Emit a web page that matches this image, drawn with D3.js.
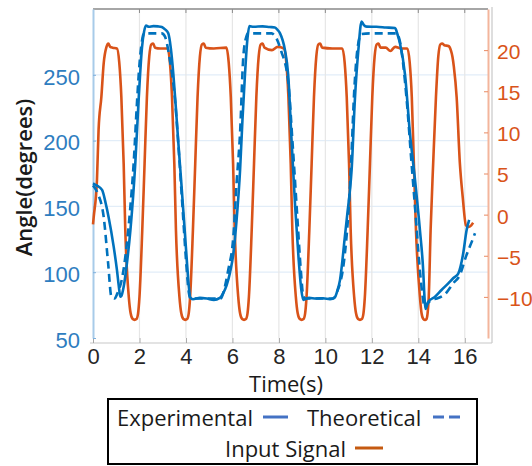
<!DOCTYPE html>
<html lang="en">
<head>
<meta charset="UTF-8"/>
<title>Angle vs input signal</title>
<script src="https://d3js.org/d3.v7.min.js"></script>
<style>
	body{ margin:0; background:#fff; }
	svg{ font-family:"Open Sans", "Noto Sans", sans-serif; }
</style>
</head>
<body>
<script>
// time ticks / axis ticks
var timeTicks = [0, 2, 4, 6, 8, 10, 12, 14, 16];
var angleTicks = [50, 100, 150, 200, 250];
var signalTicks = [-10, -5, 0, 5, 10, 15, 20];

// [time (s), angle (degrees)]
var experimental = [
	[0, 167.5], [0.15, 166], [0.39, 162.5], [0.55, 152], [0.67, 142], [0.89, 119.4], [1.03, 101.7],
	[1.12, 88], [1.17, 81.4], [1.22, 82], [1.32, 89], [1.46, 106.8], [1.61, 132], [1.82, 182.7],
	[1.97, 233], [2.11, 271], [2.2, 283], [2.28, 287.5], [2.4, 286.5], [2.6, 287], [2.8, 286.8],
	[2.96, 286.3], [3.1, 284.5], [3.24, 281.5], [3.35, 270], [3.46, 250], [3.57, 224], [3.67, 199],
	[3.8, 168], [3.93, 136], [4.05, 106], [4.13, 88], [4.18, 81], [4.3, 79.5], [4.6, 80.5], [4.9, 80],
	[5.2, 79], [5.46, 80.5], [5.6, 84], [5.75, 90], [5.9, 100], [6.04, 114], [6.18, 139.7], [6.33, 177.7],
	[6.43, 215], [6.54, 250], [6.65, 278], [6.73, 287], [6.9, 286.5], [7.3, 286.8], [7.6, 286.3],
	[7.83, 286], [7.95, 284], [8.05, 281.5], [8.26, 268.8], [8.4, 250], [8.55, 199], [8.7, 150],
	[8.85, 110], [8.97, 86], [9.05, 79], [9.3, 80.5], [9.6, 80], [9.9, 80.2], [10.2, 79.5], [10.41, 81],
	[10.5, 85], [10.63, 94], [10.84, 127], [10.95, 145], [11.06, 162.5], [11.13, 177.7], [11.27, 231],
	[11.42, 268.8], [11.56, 290.5], [11.65, 288], [11.78, 286.6], [12.2, 286.5], [12.6, 286],
	[13.0, 285.5], [13.1, 281], [13.21, 274], [13.43, 250], [13.64, 205.6], [13.86, 170], [14.07, 132],
	[14.21, 101.7], [14.27, 80], [14.31, 72], [14.36, 74], [14.43, 77.6], [14.72, 81.4], [15.0, 86.5],
	[15.29, 91.5], [15.5, 95.4], [15.72, 99], [15.93, 114], [16.08, 132], [16.19, 139.7]
];

var theoretical = [
	[0, 166], [0.2, 160], [0.46, 142], [0.65, 107], [0.79, 81.4], [0.93, 80], [1.05, 84], [1.25, 95.4],
	[1.46, 122], [1.61, 150], [1.75, 182.7], [1.89, 228], [2.0, 258], [2.11, 276], [2.2, 281.5],
	[2.96, 281.5], [3.1, 279], [3.3, 262], [3.53, 231], [3.7, 190], [3.85, 150], [4.0, 110], [4.12, 85],
	[4.2, 80], [5.5, 80], [5.6, 84], [5.82, 101.7], [6.04, 127], [6.18, 167.8], [6.33, 206], [6.47, 264],
	[6.6, 279], [6.67, 281.5], [7.69, 281.5], [7.85, 279], [8.1, 268], [8.4, 245], [8.6, 195], [8.8, 140],
	[8.95, 100], [9.05, 82], [9.15, 80], [10.35, 80], [10.48, 84], [10.84, 114], [10.99, 144.8],
	[11.1, 180], [11.25, 240], [11.4, 272], [11.55, 281], [11.92, 281.5], [13.07, 281.5], [13.2, 276],
	[13.5, 231], [13.7, 185], [13.9, 140], [14.05, 105], [14.2, 80], [14.27, 73], [14.35, 75],
	[14.57, 78.9], [14.8, 80], [15.19, 84], [15.5, 91.5], [15.79, 97.9], [16.05, 111.8], [16.36, 125.8],
	[16.44, 129.6]
];

// [time (s), input signal]
var inputSignal = [
	[0, -1.2], [0.03, -0.3], [0.17, 4.2], [0.24, 10.3], [0.36, 14.3], [0.46, 18.4], [0.58, 20.4],
	[0.66, 20.8], [0.74, 20.4], [0.85, 20.3], [1.03, 20.2],
	[1.13, 18.5], [1.22, 14.3], [1.32, 6.2], [1.39, -1.9], [1.54, -10], [1.62, -12.0], [1.71, -12.7],
	[1.79, -12.8], [1.87, -12.7], [1.94, -12.0], [2.0, -10], [2.12, -1.9], [2.22, 6.2], [2.32, 14.3],
	[2.42, 19.2], [2.51, 20.7], [2.59, 20.8], [2.67, 20.3], [2.9, 20.2], [3.21, 20.2],
	[3.31, 18.5], [3.4, 14.3], [3.5, 6.2], [3.57, -1.9], [3.72, -10], [3.8, -12.0], [3.89, -12.7],
	[3.97, -12.8], [4.05, -12.7], [4.12, -12.0], [4.18, -10], [4.3, -1.9], [4.4, 6.2], [4.5, 14.3],
	[4.6, 19.2], [4.69, 20.7], [4.77, 20.8], [4.85, 20.3], [5.2, 20.2], [5.74, 20.3],
	[5.84, 18.5], [5.93, 14.3], [6.03, 6.2], [6.1, -1.9], [6.25, -10], [6.33, -12.0], [6.42, -12.7],
	[6.5, -12.8], [6.58, -12.7], [6.65, -12.0], [6.71, -10], [6.83, -1.9], [6.93, 6.2], [7.03, 14.3],
	[7.13, 19.2], [7.22, 20.7], [7.3, 20.8], [7.38, 20.3], [7.7, 20.0], [7.95, 20.4], [8.22, 20.2],
	[8.32, 18.5], [8.41, 14.3], [8.51, 6.2], [8.58, -1.9], [8.73, -10], [8.81, -12.0], [8.9, -12.7],
	[8.98, -12.8], [9.06, -12.7], [9.13, -12.0], [9.19, -10], [9.31, -1.9], [9.41, 6.2], [9.51, 14.3],
	[9.61, 19.2], [9.7, 20.7], [9.78, 20.8], [9.86, 20.3], [10.3, 20.2], [10.73, 20.2],
	[10.83, 18.5], [10.92, 14.3], [11.02, 6.2], [11.09, -1.9], [11.24, -10], [11.32, -12.0], [11.41, -12.7],
	[11.49, -12.8], [11.57, -12.7], [11.64, -12.0], [11.7, -10], [11.82, -1.9], [11.92, 6.2], [12.02, 14.3],
	[12.12, 19.2], [12.21, 20.7], [12.29, 20.8], [12.37, 20.3], [12.6, 20.3], [12.8, 19.9], [13.0, 20.4],
	[13.3, 20.2], [13.53, 20.2],
	[13.63, 18.5], [13.72, 14.3], [13.81, 6.2], [13.9, -1.9], [14.07, -10], [14.14, -12.0], [14.22, -12.7],
	[14.29, -12.8], [14.35, -12.7], [14.4, -12.0], [14.45, -10], [14.53, -1.9], [14.64, 6.2], [14.76, 14.3],
	[14.86, 19.2], [14.95, 20.7], [15.03, 20.8], [15.12, 20.6], [15.3, 20.5], [15.4, 20.0], [15.47, 19.2],
	[15.53, 18.0], [15.65, 14.3], [15.79, 6.2], [15.91, 2.2], [16.05, -1.3], [16.15, -1.5], [16.28, -1.3],
	[16.36, -1.0]
];

var w = 532, h = 466;
var pLeft = 93, pRight = 488, pTop = 9, pBottom = 338;

var svg = d3.select("body").append("svg")
	.attr("width", w)
	.attr("height", h);

var x = d3.scaleLinear().domain([0, 17]).range([pLeft, pRight]);
var yL = d3.scaleLinear().domain([50, 300]).range([pBottom, pTop]);
var yR = d3.scaleLinear().domain([-15, 25]).range([pBottom, pTop]);

var blue = "#0072BD", orange = "#D95319";

// grid
svg.append("g").selectAll("line").data(angleTicks.slice(1)).enter().append("line")
	.attr("x1", pLeft).attr("x2", pRight)
	.attr("y1", function(d){ return yL(d); }).attr("y2", function(d){ return yL(d); })
	.attr("stroke", "#e2edf8").attr("stroke-width", 1.2);
svg.append("g").selectAll("line").data(timeTicks.slice(1)).enter().append("line")
	.attr("x1", function(d){ return x(d); }).attr("x2", function(d){ return x(d); })
	.attr("y1", pTop).attr("y2", pBottom)
	.attr("stroke", "#e6e6e6").attr("stroke-width", 1.2);

// frame
svg.append("line").attr("x1", pLeft).attr("x2", pRight).attr("y1", pTop).attr("y2", pTop)
	.attr("stroke", "#a6a6a6").attr("stroke-width", 2);
svg.append("line").attr("x1", 90).attr("x2", 492).attr("y1", 343).attr("y2", 343)
	.attr("stroke", "#c8c8c8").attr("stroke-width", 1.2);
svg.append("line").attr("x1", 492).attr("x2", 492).attr("y1", 7).attr("y2", 343)
	.attr("stroke", "#c8c8c8").attr("stroke-width", 1.2);

// top tick marks
svg.append("g").selectAll("line").data(timeTicks.slice(1)).enter().append("line")
	.attr("x1", function(d){ return x(d); }).attr("x2", function(d){ return x(d); })
	.attr("y1", pTop).attr("y2", pTop + 4)
	.attr("stroke", "#8c8c8c");

// bottom axis
var xAxis = svg.append("g")
	.attr("transform", "translate(0," + pBottom + ")")
	.call(d3.axisBottom(x).tickValues(timeTicks).tickSizeInner(-5).tickSizeOuter(0).tickPadding(10));
xAxis.select(".domain").remove();
xAxis.selectAll("line").attr("stroke", "#a6a6a6").attr("transform", "translate(0,5)");
xAxis.selectAll("text").attr("fill", "#262626").style("font-size", "22px");

// left axis
var lAxis = svg.append("g")
	.attr("transform", "translate(" + pLeft + ",0)")
	.call(d3.axisLeft(yL).tickValues(angleTicks).tickSizeInner(-3).tickSizeOuter(0).tickPadding(13));
lAxis.select(".domain").attr("stroke", "#a8cbe9").attr("stroke-width", 2);
lAxis.selectAll("line").attr("stroke", "#7fb0dc");
lAxis.selectAll("text").attr("fill", "#2e7dc0").attr("dy", "0.42em").style("font-size", "22px");

// right axis
var rAxis = svg.append("g")
	.attr("transform", "translate(" + pRight + ",0)")
	.call(d3.axisRight(yR).tickValues(signalTicks).tickSizeInner(-4).tickSizeOuter(0).tickPadding(9));
rAxis.select(".domain").attr("stroke", "#f3b59c").attr("stroke-width", 2);
rAxis.selectAll("line").attr("stroke", "#e98a62");
rAxis.selectAll("text").attr("fill", "#d9541a").attr("dy", "0.4em").style("font-size", "21px");

// lines
var lineL = d3.line()
	.x(function(d){ return x(d[0]); })
	.y(function(d){ return yL(d[1]); })
	.curve(d3.curveMonotoneX);
var lineR = d3.line()
	.x(function(d){ return x(d[0]); })
	.y(function(d){ return yR(d[1]); })
	.curve(d3.curveMonotoneX);

svg.append("path").datum(inputSignal)
	.attr("d", lineR).attr("fill", "none")
	.attr("stroke", orange).attr("stroke-width", 2.6);
svg.append("path").datum(theoretical)
	.attr("d", lineL).attr("fill", "none")
	.attr("stroke", blue).attr("stroke-width", 2.6)
	.attr("stroke-dasharray", "8,5");
svg.append("path").datum(experimental)
	.attr("d", lineL).attr("fill", "none")
	.attr("stroke", blue).attr("stroke-width", 2.6);

// axis titles
svg.append("text")
	.attr("transform", "translate(23," + ((pTop + pBottom) / 2 + 4) + ") rotate(-90)")
	.attr("text-anchor", "middle")
	.attr("dominant-baseline", "central")
	.attr("fill", "#1a1a1a")
	.style("font-size", "22px")
	.style("font-weight", "600")
	.text("Angle(degrees)");
svg.append("text")
	.attr("x", 286).attr("y", 392)
	.attr("text-anchor", "middle")
	.attr("fill", "#1a1a1a")
	.style("font-size", "22px")
	.text("Time(s)");

// legend
var lg = svg.append("g");
lg.append("rect").attr("x", 108).attr("y", 399).attr("width", 369).attr("height", 65)
	.attr("fill", "#fff").attr("stroke", "#000").attr("stroke-width", 2);
var lgText = [
	{label: "Experimental", tx: 117, y: 417, x1: 263, x2: 288, color: "#4472C4", dash: null},
	{label: "Theoretical", tx: 307, y: 417, x1: 433, x2: 460, color: "#4472C4", dash: "11,5"},
	{label: "Input Signal", tx: 225, y: 448, x1: 355, x2: 383, color: "#C55A11", dash: null}
];
lgText.forEach(function(d){
	lg.append("text").attr("x", d.tx).attr("y", d.y)
		.attr("dominant-baseline", "central")
		.attr("fill", "#1a1a1a").style("font-size", "22px")
		.text(d.label);
	lg.append("line").attr("x1", d.x1).attr("x2", d.x2).attr("y1", d.y).attr("y2", d.y)
		.attr("stroke", d.color).attr("stroke-width", 3)
		.attr("stroke-dasharray", d.dash);
});
</script>
</body>
</html>
